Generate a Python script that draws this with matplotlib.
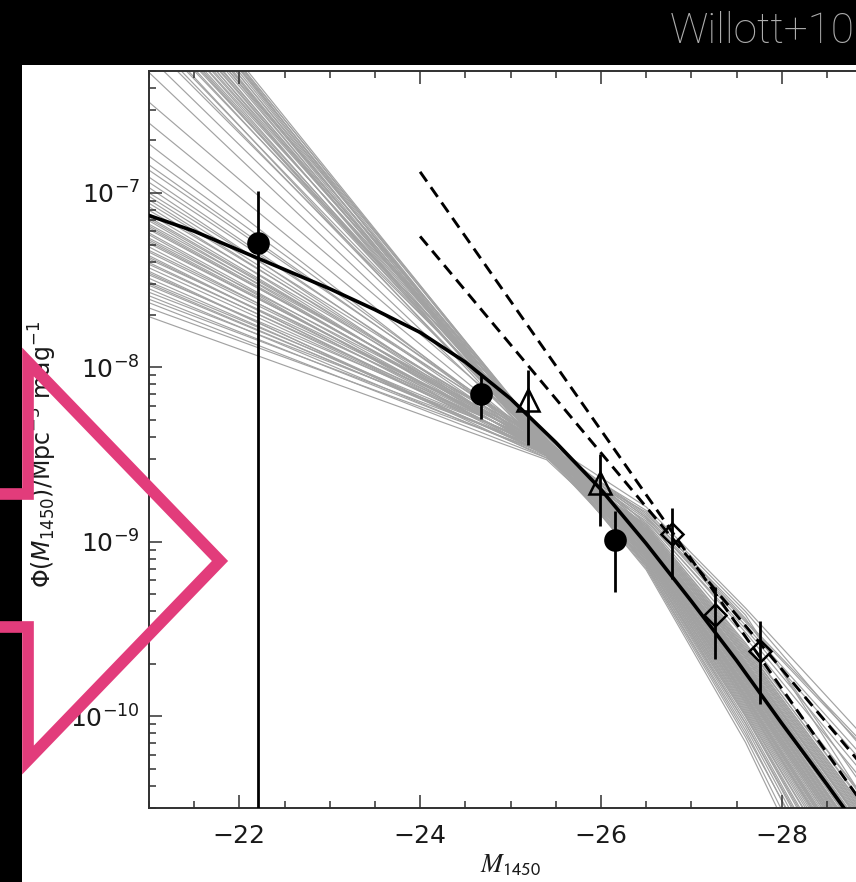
import numpy as np
import matplotlib
matplotlib.use("Agg")
import matplotlib.pyplot as plt
from matplotlib.patches import Rectangle
from matplotlib.lines import Line2D
from matplotlib.ticker import MultipleLocator, FixedLocator, NullFormatter

plt.rcParams["lines.scale_dashes"] = False

# ---------------- data ----------------
# best-fit double power law (log10 Phi) sampled along M_1450
fit_mag = [-21.0, -21.5, -22.0, -22.5, -23.0, -23.5, -24.0, -24.5, -25.0,
           -25.5, -26.0, -26.5, -27.0, -27.5, -28.0, -28.5, -29.0]
fit_logphi = [-7.13, -7.22, -7.33, -7.44, -7.55, -7.67, -7.80, -7.97, -8.18,
              -8.43, -8.70, -9.01, -9.34, -9.68, -10.04, -10.39, -10.75]

# comparison luminosity functions (dashed)
dash_a_mag = [-24.0, -29.0]
dash_a_logphi = [-6.88, -10.58]
dash_b_mag = [-24.0, -29.0]
dash_b_logphi = [-7.25, -10.35]

# MCMC sample curves: log10 Phi at the magnitudes in sample_mag
sample_mag = [-21.0, -25.4, -26.5, -27.6, -29.5]
sample_faint = [
    -6.14, -6.11, -6.08, -6.06, -6.03, -6.01, -5.99, -5.97, -5.95, -5.93,
    -5.92, -5.90, -5.88, -5.87, -5.85, -5.83, -5.82, -5.80, -5.78, -5.77,
    -5.75, -5.74, -5.72, -5.71, -5.69, -5.68, -5.66, -5.65, -5.64, -5.62,
    -5.61, -5.60, -5.96, -5.84, -5.73, -5.63,
    -6.22, -6.31, -6.48, -6.60, -6.72, -6.79,
    -6.84, -6.87, -6.91, -6.94, -6.97, -7.00, -7.02, -7.04, -7.06, -7.08,
    -7.10, -7.12, -7.14, -7.16, -7.18, -7.19, -7.21, -7.23, -7.24, -7.26,
    -7.28, -7.29, -7.31, -7.33, -7.34, -7.36, -7.38, -7.40, -7.41, -7.43,
    -7.45, -7.47, -7.49, -7.51, -7.53, -7.55, -7.57, -7.59, -7.61, -7.63,
    -7.66, -7.71, -7.15, -7.27, -7.37, -7.46, -7.52, -7.20]
sample_pivot = [
    -8.42, -8.47, -8.44, -8.50, -8.41, -8.46, -8.43, -8.48, -8.45, -8.40,
    -8.49, -8.44, -8.47, -8.42, -8.51, -8.45, -8.43, -8.48, -8.46, -8.41,
    -8.50, -8.44, -8.47, -8.43, -8.49, -8.45, -8.42, -8.48, -8.46, -8.44,
    -8.51, -8.43, -8.47, -8.45, -8.49, -8.42,
    -8.44, -8.47, -8.43, -8.46, -8.48, -8.45,
    -8.45, -8.43, -8.47, -8.44, -8.49, -8.42, -8.46, -8.48, -8.44, -8.50,
    -8.43, -8.47, -8.45, -8.49, -8.42, -8.46, -8.44, -8.48, -8.51, -8.43,
    -8.47, -8.45, -8.49, -8.44, -8.46, -8.50, -8.43, -8.48, -8.45, -8.47,
    -8.52, -8.44, -8.49, -8.46, -8.48, -8.51, -8.45, -8.50, -8.47, -8.52,
    -8.49, -8.53, -8.45, -8.47, -8.48, -8.50, -8.49, -8.46]
sample_b1 = [
    -8.98, -9.03, -8.95, -9.06, -8.92, -9.00, -9.09, -8.97, -9.02, -8.90,
    -9.05, -8.99, -9.12, -8.94, -9.01, -8.96, -9.07, -8.93, -9.04, -8.98,
    -9.10, -8.91, -9.02, -8.97, -9.06, -8.95, -9.00, -9.08, -8.93, -9.03,
    -8.88, -9.14, -8.99, -9.05, -8.96, -9.01,
    -8.84, -8.82, -9.11, -8.86, -9.15, -8.89,
    -8.97, -9.04, -8.92, -9.09, -8.99, -9.13, -8.94, -9.02, -8.85, -9.06,
    -8.96, -9.16, -9.00, -8.91, -9.08, -8.98, -9.03, -8.87, -9.12, -8.95,
    -9.01, -9.07, -8.93, -9.10, -8.97, -9.04, -8.80, -9.14, -8.99, -9.05,
    -8.90, -9.02, -8.96, -9.09, -8.94, -9.00, -8.86, -9.11, -8.98, -9.03,
    -8.92, -9.06, -8.95, -9.13, -9.01, -8.83, -9.07, -8.97]
sample_b2 = [
    -9.74, -9.82, -9.70, -9.88, -9.62, -9.79, -9.95, -9.72, -9.84, -9.58,
    -9.90, -9.76, -10.00, -9.66, -9.80, -9.71, -9.92, -9.64, -9.86, -9.75,
    -9.98, -9.60, -9.83, -9.73, -9.89, -9.69, -9.78, -9.94, -9.65, -9.85,
    -9.50, -10.10, -9.77, -9.87, -9.70, -9.81,
    -9.42, -9.40, -10.04, -9.46, -10.12, -9.55,
    -9.74, -9.85, -9.63, -9.97, -9.77, -10.06, -9.67, -9.83, -9.45, -9.90,
    -9.72, -10.15, -9.80, -9.61, -9.93, -9.75, -9.84, -9.52, -10.02, -9.68,
    -9.79, -9.91, -9.64, -9.99, -9.73, -9.86, -9.38, -10.08, -9.76, -9.88,
    -9.59, -9.82, -9.71, -9.96, -9.66, -9.78, -9.48, -10.00, -9.74, -9.85,
    -9.62, -9.89, -9.69, -10.04, -9.80, -9.44, -9.92, -9.72]
sample_b3 = [
    -11.10, -11.28, -11.05, -11.40, -10.95, -11.22, -11.55, -11.12, -11.30, -10.88,
    -11.45, -11.18, -11.70, -11.00, -11.25, -11.08, -11.50, -10.98, -11.35, -11.15,
    -11.62, -10.92, -11.28, -11.14, -11.42, -11.04, -11.20, -11.52, -10.99, -11.32,
    -10.62, -11.90, -11.19, -11.38, -11.06, -11.26,
    -10.95, -10.55, -11.80, -10.50, -12.10, -10.75,
    -11.12, -11.33, -10.96, -11.62, -11.20, -11.90, -11.02, -11.29, -10.48, -11.44,
    -11.10, -12.20, -11.23, -10.90, -11.50, -11.16, -11.31, -10.70, -11.80, -11.03,
    -11.24, -11.47, -10.97, -11.68, -11.13, -11.36, -10.45, -12.00, -11.19, -11.41,
    -10.86, -11.27, -11.09, -11.58, -11.01, -11.21, -10.58, -11.75, -11.14, -11.33,
    -10.94, -11.43, -11.05, -11.85, -11.25, -10.85, -11.48, -11.11]

# binned luminosity function points: (M, Phi, lower, upper)
circ_mag = [-22.21, -24.67, -26.16]
circ_phi = [5.15e-8, 7.0e-9, 1.03e-9]
circ_lo = [1.0e-12, 5.05e-9, 5.14e-10]
circ_hi = [1.02e-7, 9.12e-9, 1.50e-9]

tri_mag = [-25.19, -25.99]
tri_phi = [6.5e-9, 2.18e-9]
tri_lo = [3.6e-9, 1.23e-9]
tri_hi = [9.66e-9, 3.17e-9]

dia_mag = [-26.79, -27.26, -27.76]
dia_phi = [1.107e-9, 3.82e-10, 2.36e-10]
dia_lo = [6.12e-10, 2.14e-10, 1.18e-10]
dia_hi = [1.57e-9, 5.48e-10, 3.52e-10]

y_decades = [1e-10, 1e-9, 1e-8, 1e-7]
y_minor = [m * d for d in [1e-11, 1e-10, 1e-9, 1e-8, 1e-7] for m in range(2, 10)]

# ---------------- figure ----------------
W, H = 856, 882
fig = plt.figure(figsize=(W / 100, H / 100), dpi=100, facecolor="black")


def fx(px):
    return px / W


def fy(py):
    return 1 - py / H


# white panel behind the plot
fig.add_artist(Rectangle((fx(21.5), 0), 1 - fx(21.5), fy(65), transform=fig.transFigure,
                         facecolor="white", edgecolor="none", zorder=-5))

ax_left, ax_right, ax_top, ax_bottom = 148.9, 872.1, 70.8, 807.5
ax = fig.add_axes([fx(ax_left), fy(ax_bottom), fx(ax_right - ax_left),
                   (ax_bottom - ax_top) / H])
ax.set_facecolor("white")
ax.set_yscale("log")
ax.set_xlim(-21, -29)
ax.set_ylim(3e-11, 5e-7)

gray = "#a2a2a2"
for f, p, b1, b2, b3 in zip(sample_faint, sample_pivot, sample_b1, sample_b2, sample_b3):
    ax.plot(sample_mag, 10 ** np.array([f, p, b1, b2, b3]), color=gray, lw=0.85,
            zorder=1, solid_joinstyle="round")

ax.plot(fit_mag, 10 ** np.array(fit_logphi), color="black", lw=2.6, zorder=3,
        solid_joinstyle="round")
for m, lp in ((dash_a_mag, dash_a_logphi), (dash_b_mag, dash_b_logphi)):
    ax.plot(m, 10 ** np.array(lp), color="black", lw=2.1, zorder=3,
            dashes=(8.5, 5))


def points(mag, phi, lo, hi, marker, ms, filled):
    phi = np.array(phi)
    yerr = [phi - np.array(lo), np.array(hi) - phi]
    ax.errorbar(mag, phi, yerr=yerr, fmt="none", ecolor="black", elinewidth=2.0,
                capsize=0, zorder=4)
    ax.plot(mag, phi, ls="none", marker=marker, ms=ms,
            mfc="black" if filled else "none", mec="black", mew=1.8, zorder=5)


points(circ_mag, circ_phi, circ_lo, circ_hi, "o", 14.5, True)
points(tri_mag, tri_phi, tri_lo, tri_hi, "^", 15.5, False)
points(dia_mag, dia_phi, dia_lo, dia_hi, "D", 11.0, False)

# axes styling
for s in ax.spines.values():
    s.set_linewidth(1.4)
    s.set_color("#303030")
ax.xaxis.set_major_locator(FixedLocator([-22, -24, -26, -28]))
ax.xaxis.set_minor_locator(MultipleLocator(0.5))
ax.yaxis.set_major_locator(FixedLocator(y_decades))
ax.yaxis.set_minor_locator(FixedLocator(y_minor))
ax.yaxis.set_minor_formatter(NullFormatter())
ax.tick_params(which="both", direction="in", top=True, right=True,
               width=1.1, color="#303030", labelsize=18, labelcolor="#1a1a1a")
ax.tick_params(which="major", length=9.5)
ax.tick_params(which="minor", length=5)
ax.tick_params(axis="x", pad=12)
ax.tick_params(axis="y", pad=6.5)

ax.set_xlabel(r"$M_{\mathsf{1450}}$", fontsize=19, math_fontfamily="stix",
              labelpad=3, color="#1a1a1a")
fig.text(fx(43), fy(455), r"$\Phi(M_{1450})/\mathrm{Mpc}^{-3}\ \mathrm{mag}^{-1}$",
         rotation=90, ha="center", va="center", fontsize=17, color="#1a1a1a")

# heading
fig.text(fx(670), fy(43), "Willott+10", ha="left", va="baseline", fontsize=30.5,
         color="#adadad", family=["Roboto", "DejaVu Sans"], fontweight="light")

# pink arrow outline
arrow_x = [-20, 28, 28, 220, 28, 28, -20]
arrow_y = [494, 494, 362, 561, 760, 627, 627]
fig.add_artist(Line2D([fx(v) for v in arrow_x], [fy(v) for v in arrow_y],
                      transform=fig.transFigure, color="#e23c7b", lw=8.4,
                      solid_joinstyle="miter", solid_capstyle="butt", zorder=10))

fig.savefig("out.png", dpi=100, facecolor="black")
